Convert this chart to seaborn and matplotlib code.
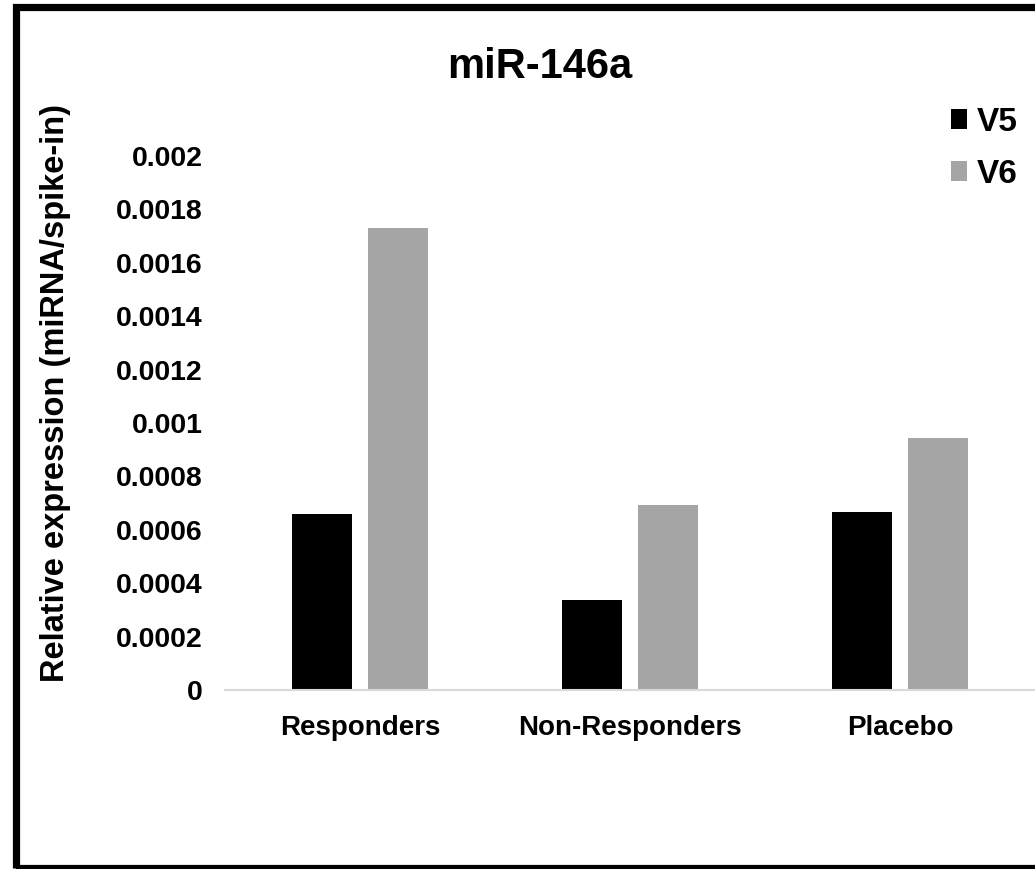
import matplotlib
matplotlib.use("Agg")
import matplotlib.pyplot as plt
import matplotlib.patches as mpatches
import seaborn as sns
import pandas as pd

categories = ["Responders", "Non-Responders", "Placebo"]
v5 = [0.00066, 0.000338, 0.000665]
v6 = [0.00173, 0.000694, 0.000944]
series = ["V5", "V6"]
yticks = [0, 0.0002, 0.0004, 0.0006, 0.0008, 0.001, 0.0012, 0.0014, 0.0016, 0.0018, 0.002]
ytick_labels = ["0", "0.0002", "0.0004", "0.0006", "0.0008", "0.001", "0.0012",
                "0.0014", "0.0016", "0.0018", "0.002"]
title = "miR-146a"
ylabel = "Relative expression (miRNA/spike-in)"

df = pd.DataFrame({
    "group": categories * 2,
    "visit": ["V5"] * 3 + ["V6"] * 3,
    "value": v5 + v6,
})

sns.set_theme(style="white")
plt.rcParams["font.family"] = ["Liberation Sans", "DejaVu Sans"]
plt.rcParams["font.weight"] = "bold"
plt.rcParams["text.color"] = "black"
plt.rcParams["axes.labelcolor"] = "black"
plt.rcParams["xtick.color"] = "black"
plt.rcParams["ytick.color"] = "black"

W, H = 1035, 869
fig = plt.figure(figsize=(W / 100, H / 100), dpi=100)
ax = fig.add_axes([225 / W, 1 - 690 / H, 810 / W, 534 / H])

sns.barplot(data=df, x="group", y="value", hue="visit", order=categories,
            hue_order=series, palette={"V5": "#000000", "V6": "#a5a5a5"},
            width=0.57, gap=0.22, saturation=1, edgecolor="none", linewidth=0,
            ax=ax, legend=True)

ax.set_xlim(-0.5, 2.5)
ax.set_ylim(0, 0.002)
ax.set_yticks(yticks)
ax.set_yticklabels(ytick_labels)
ax.set_xlabel("")
ax.set_ylabel(ylabel, fontsize=23.5, fontweight="bold", color="black")
ax.yaxis.set_label_coords(-0.19, 0.557)

for s in ["top", "right", "left"]:
    ax.spines[s].set_visible(False)
ax.spines["bottom"].set_color("#d9d9d9")
ax.spines["bottom"].set_linewidth(1.5)
ax.spines["bottom"].set_clip_on(False)

ax.tick_params(axis="y", length=0, pad=16, labelsize=20.5, labelcolor="black")
ax.tick_params(axis="x", length=0, pad=18, labelsize=20, labelcolor="black")
for lab in ax.get_xticklabels() + ax.get_yticklabels():
    lab.set_fontweight("bold")

fig.text(540 / W, 1 - 78 / H, title, ha="center", va="baseline",
         fontsize=30, fontweight="bold", color="black")

handles, labels = ax.get_legend_handles_labels()
leg = ax.legend(handles, labels, loc="upper left",
                bbox_to_anchor=(951 / W, 1 - 107 / H), bbox_transform=fig.transFigure,
                frameon=False, fontsize=24, handlelength=0.48, handleheight=0.55,
                handletextpad=0.3, labelspacing=0.62, borderpad=0, borderaxespad=0)
for t in leg.get_texts():
    t.set_fontweight("bold")
    t.set_color("black")

frame = mpatches.Rectangle((15.5 / W, 1 - 868 / H), 1.2, (868 - 6.5) / H,
                           transform=fig.transFigure, fill=False,
                           edgecolor="black", linewidth=5.2, clip_on=False)
fig.patches.append(frame)

fig.savefig("out.png", dpi=100, facecolor="white")
